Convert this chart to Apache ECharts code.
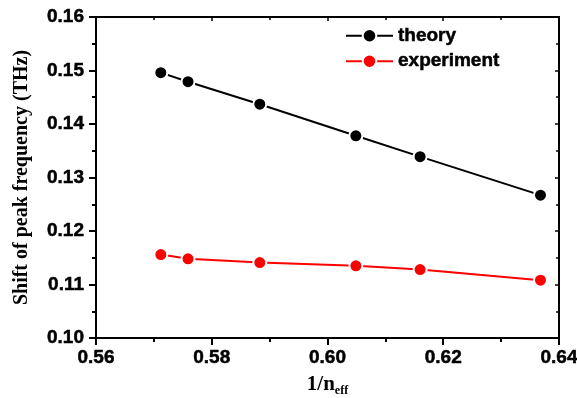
<!DOCTYPE html>
<html>
<head>
<meta charset="utf-8">
<script src="https://cdn.jsdelivr.net/npm/echarts@6/dist/echarts.min.js"></script>
<style>
  html, body { margin: 0; padding: 0; background: #fff; }
  #chart { width: 577px; height: 398px; }
</style>
</head>
<body>
<div id="chart"></div>
<script>
const invN = [0.5712, 0.5759, 0.5883, 0.6049, 0.6160, 0.6368]
const theory = [0.1496, 0.1479, 0.1437, 0.1378, 0.1339, 0.1267]
const experiment = [0.1156, 0.1148, 0.1141, 0.1135, 0.1128, 0.1108]

const sans = 'Arial, Liberation Sans, sans-serif'
const serif = 'Times New Roman, Liberation Serif, serif'

const tickFont = {
  fontFamily: sans,
  fontWeight: 'bold',
  fontSize: 19,
  color: '#000',
  textBorderColor: '#000',
  textBorderWidth: 0.5,
}

const axisLine = { show: true, lineStyle: { color: '#000', width: 2 } }

function pairs(xs, ys) {
  return xs.map((x, i) => [x, ys[i]])
}

const chart = echarts.init(document.getElementById('chart'), null, { renderer: 'canvas' })

chart.setOption({
  backgroundColor: '#fff',
  animation: false,
  grid: { left: 96, right: 18, top: 17, bottom: 60, outerBoundsMode: 'none', containLabel: false },
  legend: {
    orient: 'vertical',
    left: 340,
    top: 21,
    itemWidth: 47,
    itemHeight: 17,
    itemGap: 6,
    textStyle: { ...tickFont },
    data: ['theory', 'experiment'],
  },
  xAxis: [
    {
      type: 'value',
      min: 0.56,
      max: 0.64,
      interval: 0.02,
      name: '{a|1/n}{b|eff}',
      nameLocation: 'middle',
      nameGap: 34,
      nameTextStyle: {
        rich: {
          a: { fontFamily: serif, fontWeight: 'bold', fontSize: 21, color: '#000' },
          b: { fontFamily: serif, fontWeight: 'bold', fontSize: 12, color: '#000', padding: [13, 0, 0, 0] },
        },
      },
      axisLine,
      axisTick: { show: true, inside: false, length: 7, lineStyle: { width: 2, color: '#000' } },
      minorTick: { show: true, splitNumber: 2, length: 4, lineStyle: { width: 2, color: '#000' } },
      axisLabel: { ...tickFont, margin: 10, formatter: v => v.toFixed(2) },
      splitLine: { show: false },
    },
    {
      type: 'value',
      position: 'top',
      min: 0.56,
      max: 0.64,
      interval: 0.02,
      axisLine,
      axisTick: { show: true, inside: true, length: 4, lineStyle: { width: 1.5, color: '#000' } },
      minorTick: { show: true, splitNumber: 2, length: 3, lineStyle: { width: 1.5, color: '#000' } },
      axisLabel: { show: false },
      splitLine: { show: false },
    },
  ],
  yAxis: [
    {
      type: 'value',
      min: 0.10,
      max: 0.16,
      interval: 0.01,
      name: 'Shift of peak frequency (THz)',
      nameLocation: 'middle',
      nameGap: 64,
      nameTextStyle: {
        fontFamily: serif,
        fontWeight: 'bold',
        fontSize: 20,
        color: '#000',
      },
      axisLine,
      axisTick: { show: true, inside: false, length: 7, lineStyle: { width: 2, color: '#000' } },
      minorTick: { show: true, splitNumber: 2, length: 4, lineStyle: { width: 2, color: '#000' } },
      axisLabel: { ...tickFont, margin: 12, formatter: v => v.toFixed(2) },
      splitLine: { show: false },
    },
    {
      type: 'value',
      position: 'right',
      min: 0.10,
      max: 0.16,
      interval: 0.01,
      axisLine,
      axisTick: { show: true, inside: true, length: 4, lineStyle: { width: 1.5, color: '#000' } },
      minorTick: { show: true, splitNumber: 2, length: 3, lineStyle: { width: 1.5, color: '#000' } },
      axisLabel: { show: false },
      splitLine: { show: false },
    },
  ],
  series: [
    {
      name: 'theory',
      type: 'line',
      data: pairs(invN, theory),
      symbol: 'circle',
      symbolSize: 13,
      color: '#000',
      lineStyle: { color: '#000', width: 2 },
      itemStyle: { color: '#000', borderColor: '#fff', borderWidth: 2 },
    },
    {
      name: 'experiment',
      type: 'line',
      data: pairs(invN, experiment),
      symbol: 'circle',
      symbolSize: 13,
      color: '#ff0000',
      lineStyle: { color: '#ff0000', width: 2 },
      itemStyle: { color: '#ff0000', borderColor: '#fff', borderWidth: 2 },
    },
  ],
})
</script>
</body>
</html>
